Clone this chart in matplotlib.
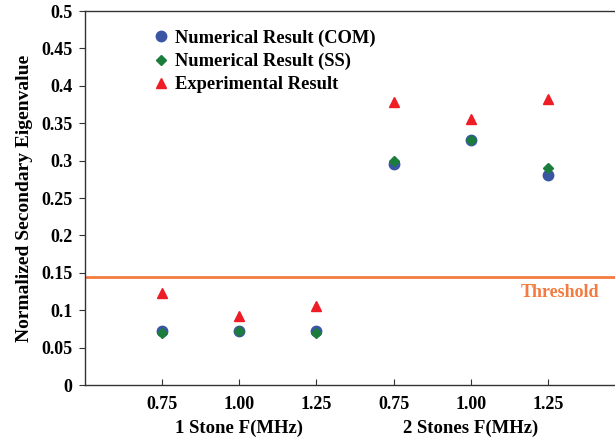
import numpy as np
import matplotlib.pyplot as plt

plt.rcParams['font.family'] = 'Liberation Serif'
plt.rcParams['font.weight'] = 'bold'

freq_labels = ['0.75', '1.00', '1.25', '0.75', '1.00', '1.25']
groups = ['1 Stone F(MHz)', '2 Stones F(MHz)']
com = [0.072, 0.072, 0.072, 0.295, 0.328, 0.281]
ss = [0.070, 0.072, 0.070, 0.300, 0.328, 0.290]
exp = [0.123, 0.092, 0.106, 0.378, 0.356, 0.382]
threshold = 0.145

x = np.arange(1, len(freq_labels) + 1)

fig = plt.figure(figsize=(6.15, 4.4), dpi=100)
ax = fig.add_axes([85/615, 1-385/440, 1-85/615, 374/440])

ax.plot(x, com, 'o', color='#3b55a5', markersize=7.5, label='Numerical Result (COM)', zorder=3)
ax.plot(x, ss, 'D', color='#1b7d3c', markersize=5.5, label='Numerical Result (SS)', zorder=4)
ax.plot(x, exp, '^', color='#ee1c25', markersize=7.5, label='Experimental Result', zorder=3)
ax.axhline(threshold, color='#f47b3f', lw=2, zorder=2)
ax.text(6.67, 0.123, 'Threshold', color='#f47b3f', fontsize=13, fontweight='bold',
        ha='right', va='center')

ax.set_xlim(0, 6.87)
ax.set_ylim(0, 0.5)
ax.set_xticks(x)
ax.set_xticklabels(freq_labels)
ax.set_yticks(np.arange(0, 0.51, 0.05))
ax.set_yticklabels(['0', '0.05', '0.1', '0.15', '0.2', '0.25', '0.3', '0.35', '0.4', '0.45', '0.5'])
ax.tick_params(axis='x', direction='in', length=4, pad=8, labelsize=13, color='#333333')
ax.tick_params(axis='y', direction='out', length=4, pad=5, labelsize=13, color='#333333')
ax.spines['right'].set_visible(False)
for s in ['left', 'bottom', 'top']:
    ax.spines[s].set_color('#333333')
    ax.spines[s].set_linewidth(1)

for xpos, g in zip([2, 5], groups):
    ax.text(xpos, -0.115, g, transform=ax.get_xaxis_transform(), ha='center', va='center',
            fontsize=13.5, fontweight='bold')

ax.set_ylabel('Normalized Secondary Eigenvalue', fontsize=14, fontweight='bold', labelpad=6)

ax.legend(loc='upper left', bbox_to_anchor=(0.108, 0.97), frameon=False, fontsize=13.3,
          handletextpad=0.2, labelspacing=0.33, handlelength=1.2, borderaxespad=0)

fig.savefig('out.png', dpi=100)
